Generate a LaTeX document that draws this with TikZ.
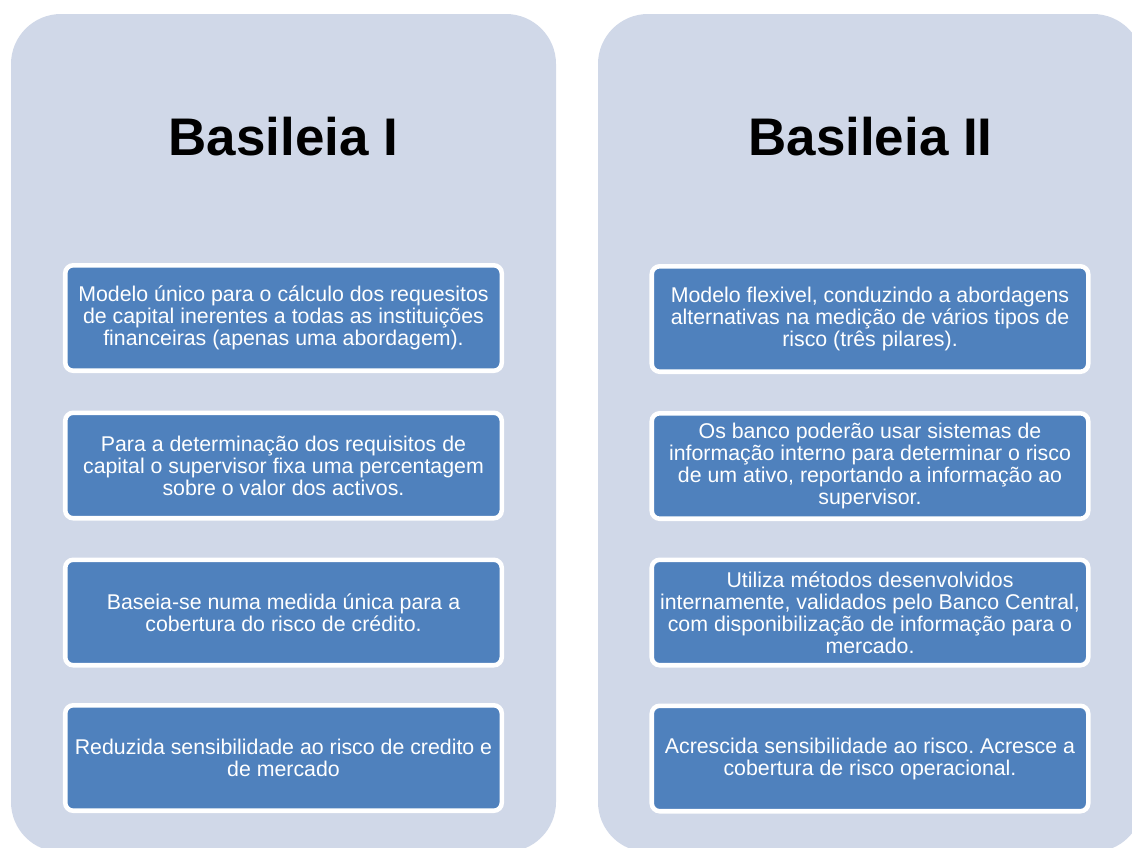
\documentclass[tikz,border=0pt]{standalone}
\usepackage{fontspec}
\setmainfont{Liberation Sans}
\frenchspacing
\definecolor{panelbg}{HTML}{D0D8E8}
\definecolor{boxblue}{HTML}{4F81BD}
\tikzset{
  panel/.style={fill=panelbg, rounded corners=37.5pt},
  title/.style={anchor=base, font=\fontsize{39.7pt}{44pt}\selectfont\bfseries, text=black, inner sep=0pt},
  itembox/.style={draw=white, line width=3.4pt, fill=boxblue, rounded corners=6pt,
    minimum width=327.4pt, minimum height=79.1pt, align=center, text=white,
    font=\fontsize{16pt}{16.5pt}\selectfont, inner sep=1pt}
}
\begin{document}
\begin{tikzpicture}[x=0.75pt,y=-0.75pt]
\useasboundingbox (0,0) rectangle (1132,847);
\clip (0,0) rectangle (1132,847);
\fill[white] (0,0) rectangle (1132,847);
\fill[panel] (11,14) rectangle (556,852);
\fill[panel] (598,14) rectangle (1143,852);
\node[title] (t1) at (283.5,155) {Basileia I};
\node[title] (t2) at (870.5,155) {Basileia II};
\node[itembox] (l1) at (283.5,318) {Modelo único para o cálculo dos requesitos\\de capital inerentes a todas as instituições\\financeiras (apenas uma abordagem).};
\node[itembox] (l2) at (283.5,465.5) {Para a determinação dos requisitos de\\capital o supervisor fixa uma percentagem\\sobre o valor dos activos.};
\node[itembox] (l3) at (283.5,612.5) {Baseia-se numa medida única para a\\cobertura do risco de crédito.};
\node[itembox] (l4) at (283.5,758) {Reduzida sensibilidade ao risco de credito e\\de mercado};
\node[itembox] (r1) at (870,319) {Modelo flexivel, conduzindo a abordagens\\alternativas na medição de vários tipos de\\risco (três pilares).};
\node[itembox] (r2) at (870,466) {Os banco poderão usar sistemas de\\informação interno para determinar o risco\\de um ativo, reportando a informação ao\\supervisor.};
\node[itembox] (r3) at (870,612.5) {Utiliza métodos desenvolvidos\\internamente, validados pelo Banco Central,\\com disponibilização de informação para o\\mercado.};
\node[itembox] (r4) at (870,758.5) {Acrescida sensibilidade ao risco. Acresce a\\cobertura de risco operacional.};
\end{tikzpicture}
\end{document}
